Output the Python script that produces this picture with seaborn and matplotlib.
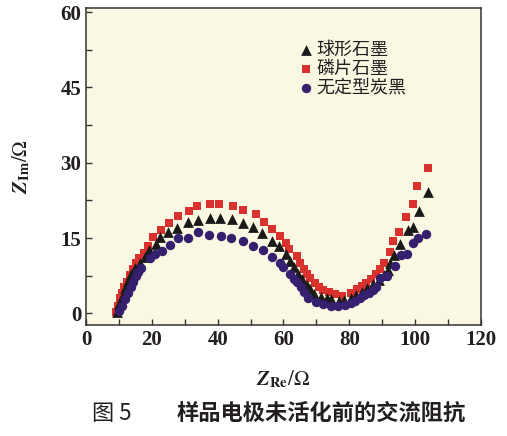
import matplotlib
matplotlib.use("Agg")
import matplotlib.pyplot as plt
import seaborn as sns
import pandas as pd

# Nyquist data (Z_Re, Z_Im in ohm)
sph_x = [9.3, 10.0, 10.8, 11.8, 12.8, 13.8, 15.0, 16.4, 17.8, 19.2, 21.3, 22.6, 25.0, 27.6,
         30.9, 34.1, 37.6, 40.8, 44.5, 47.7, 50.8, 53.6, 56.5, 58.7, 60.8, 62.1, 63.3, 64.5,
         65.5, 67.2, 68.2, 69.2, 71.3, 73.1, 74.3, 76.9, 78.5, 80.5, 82.0, 83.8, 85.5, 87.3,
         89.0, 90.5, 91.6, 92.5, 93.5, 95.5, 97.9, 99.3, 101.2, 103.9]
sph_y = [0.3, 1.8, 3.3, 5.0, 6.5, 7.8, 9.0, 10.0, 11.3, 12.6, 13.8, 15.3, 16.2, 17.1,
         18.3, 18.6, 19.0, 19.0, 18.8, 18.0, 17.3, 16.1, 14.5, 13.4, 11.8, 10.5, 9.2, 7.8,
         6.8, 5.7, 4.8, 3.9, 3.2, 3.0, 2.8, 2.5, 2.6, 3.0, 3.6, 4.3, 5.0, 5.8,
         6.7, 7.6, 8.7, 10.0, 11.7, 13.9, 16.6, 17.2, 20.3, 24.1]

flk_x = [9.1, 9.6, 10.4, 10.9, 11.6, 12.4, 13.4, 14.4, 15.2, 16.1, 17.5, 18.8, 20.5, 22.8,
         25.3, 27.9, 31.2, 33.8, 37.8, 40.3, 44.7, 47.7, 51.5, 54.0, 56.4, 58.8, 60.8, 61.8,
         64.2, 65.0, 66.2, 67.2, 68.2, 69.5, 70.8, 72.1, 73.8, 75.8, 77.9, 80.4, 82.2, 83.8,
         85.2, 86.7, 88.0, 89.3, 90.6, 92.4, 93.4, 95.1, 97.2, 99.2, 100.7, 103.8]
flk_y = [0.2, 1.5, 3.0, 4.0, 5.2, 6.3, 7.7, 8.8, 10.0, 11.0, 12.1, 13.5, 15.3, 16.6,
         18.1, 19.3, 20.4, 21.4, 21.7, 21.7, 21.4, 20.6, 19.8, 18.2, 16.8, 15.5, 14.0, 12.8,
         11.5, 10.1, 8.9, 7.9, 7.0, 6.0, 5.2, 4.7, 4.2, 3.8, 3.5, 4.0, 4.8, 5.5,
         6.0, 6.8, 7.8, 8.8, 10.0, 12.3, 14.4, 16.3, 19.2, 21.8, 25.4, 28.9]

cb_x = [10.1, 10.9, 11.9, 12.9, 13.6, 14.4, 15.2, 15.9, 16.7, 19.5, 21.0, 23.1, 25.6, 28.1,
        30.9, 34.0, 37.5, 41.0, 44.2, 47.7, 50.8, 53.7, 56.4, 58.8, 59.8, 61.9, 63.2, 64.2,
        65.4, 66.2, 67.4, 69.8, 72.1, 74.3, 76.7, 78.7, 80.4, 81.8, 83.2, 84.6, 86.0, 87.2,
        88.2, 89.4, 91.5, 93.8, 95.8, 97.6, 99.4, 100.8, 103.4]
cb_y = [0.4, 1.5, 2.9, 4.1, 5.2, 6.3, 7.5, 8.3, 9.0, 11.0, 11.9, 12.4, 13.6, 15.1,
        15.0, 16.2, 15.6, 15.5, 15.0, 14.4, 13.4, 12.6, 11.2, 10.1, 9.3, 7.9, 6.8, 6.2,
        5.3, 4.2, 3.0, 2.2, 1.8, 1.5, 1.4, 1.7, 2.0, 2.5, 3.0, 3.6, 4.1, 4.6,
        5.3, 7.1, 7.5, 9.5, 11.7, 11.9, 14.0, 15.0, 15.8]

labels = ['球形石墨', '磷片石墨', '无定型炭黑']
xticks = [0, 20, 40, 60, 80, 100, 120]
yticks = [0, 15, 30, 45, 60]

sns.set_style('ticks')
plt.rcParams['mathtext.fontset'] = 'stix'
plt.rcParams['font.family'] = ['Noto Sans CJK SC', 'DejaVu Sans']

fig = plt.figure(figsize=(5.07, 4.36), dpi=100)
ax = fig.add_axes([0.1696, 0.2546, 0.7791, 0.727])
ax.set_facecolor('#FAF8E3')

sns.scatterplot(x=sph_x, y=sph_y, marker='^', s=60, color='#1A1A1A', linewidth=0,
                label=labels[0], ax=ax, zorder=3)
sns.scatterplot(x=flk_x, y=flk_y, marker='s', s=40, color='#D8312E', linewidth=0,
                label=labels[1], ax=ax, zorder=2)
sns.scatterplot(x=cb_x, y=cb_y, marker='o', s=46, color='#35206F', linewidth=0,
                label=labels[2], ax=ax, zorder=4)

ax.set_xlim(0, 120)
ax.set_ylim(-2.3, 60.8)
ax.set_xticks(xticks)
ax.set_xticks(range(10, 120, 20), minor=True)
ax.set_yticks(yticks)
ax.set_yticks([7.5, 22.5, 37.5, 52.5], minor=True)
ax.tick_params(which='both', direction='in', length=4, width=1, color='#333333',
               top=False, right=False)
for t in ax.get_xticklabels() + ax.get_yticklabels():
    t.set_family('Liberation Serif')
    t.set_weight('bold')
    t.set_fontsize(15)
    t.set_color('#231F20')
for sp in ax.spines.values():
    sp.set_linewidth(1.1)
    sp.set_color('#333333')

ax.set_xlabel(r'$\mathbfit{Z}_{\mathbf{Re}}/\Omega$', fontsize=15, color='#231F20', labelpad=13)
ax.set_ylabel(r'$\mathbfit{Z}_{\mathbf{Im}}/\Omega$', fontsize=15, color='#231F20', labelpad=20)

leg = ax.legend(loc='upper left', bbox_to_anchor=(0.52, 0.925), frameon=False,
                handlelength=0.6, handletextpad=0.3, labelspacing=0.05, borderpad=0,
                prop={'family': ['Noto Sans CJK SC', 'DejaVu Sans'], 'size': 13})
for txt in leg.get_texts():
    txt.set_color('#231F20')

fig.text(0.181, 0.052, '图 5', fontsize=16, color='#231F20', ha='left', va='center')
fig.text(0.349, 0.052, '样品电极未活化前的交流阻抗', fontsize=16, fontweight='bold',
         color='#231F20', ha='left', va='center')

fig.savefig('out.png', dpi=100)
